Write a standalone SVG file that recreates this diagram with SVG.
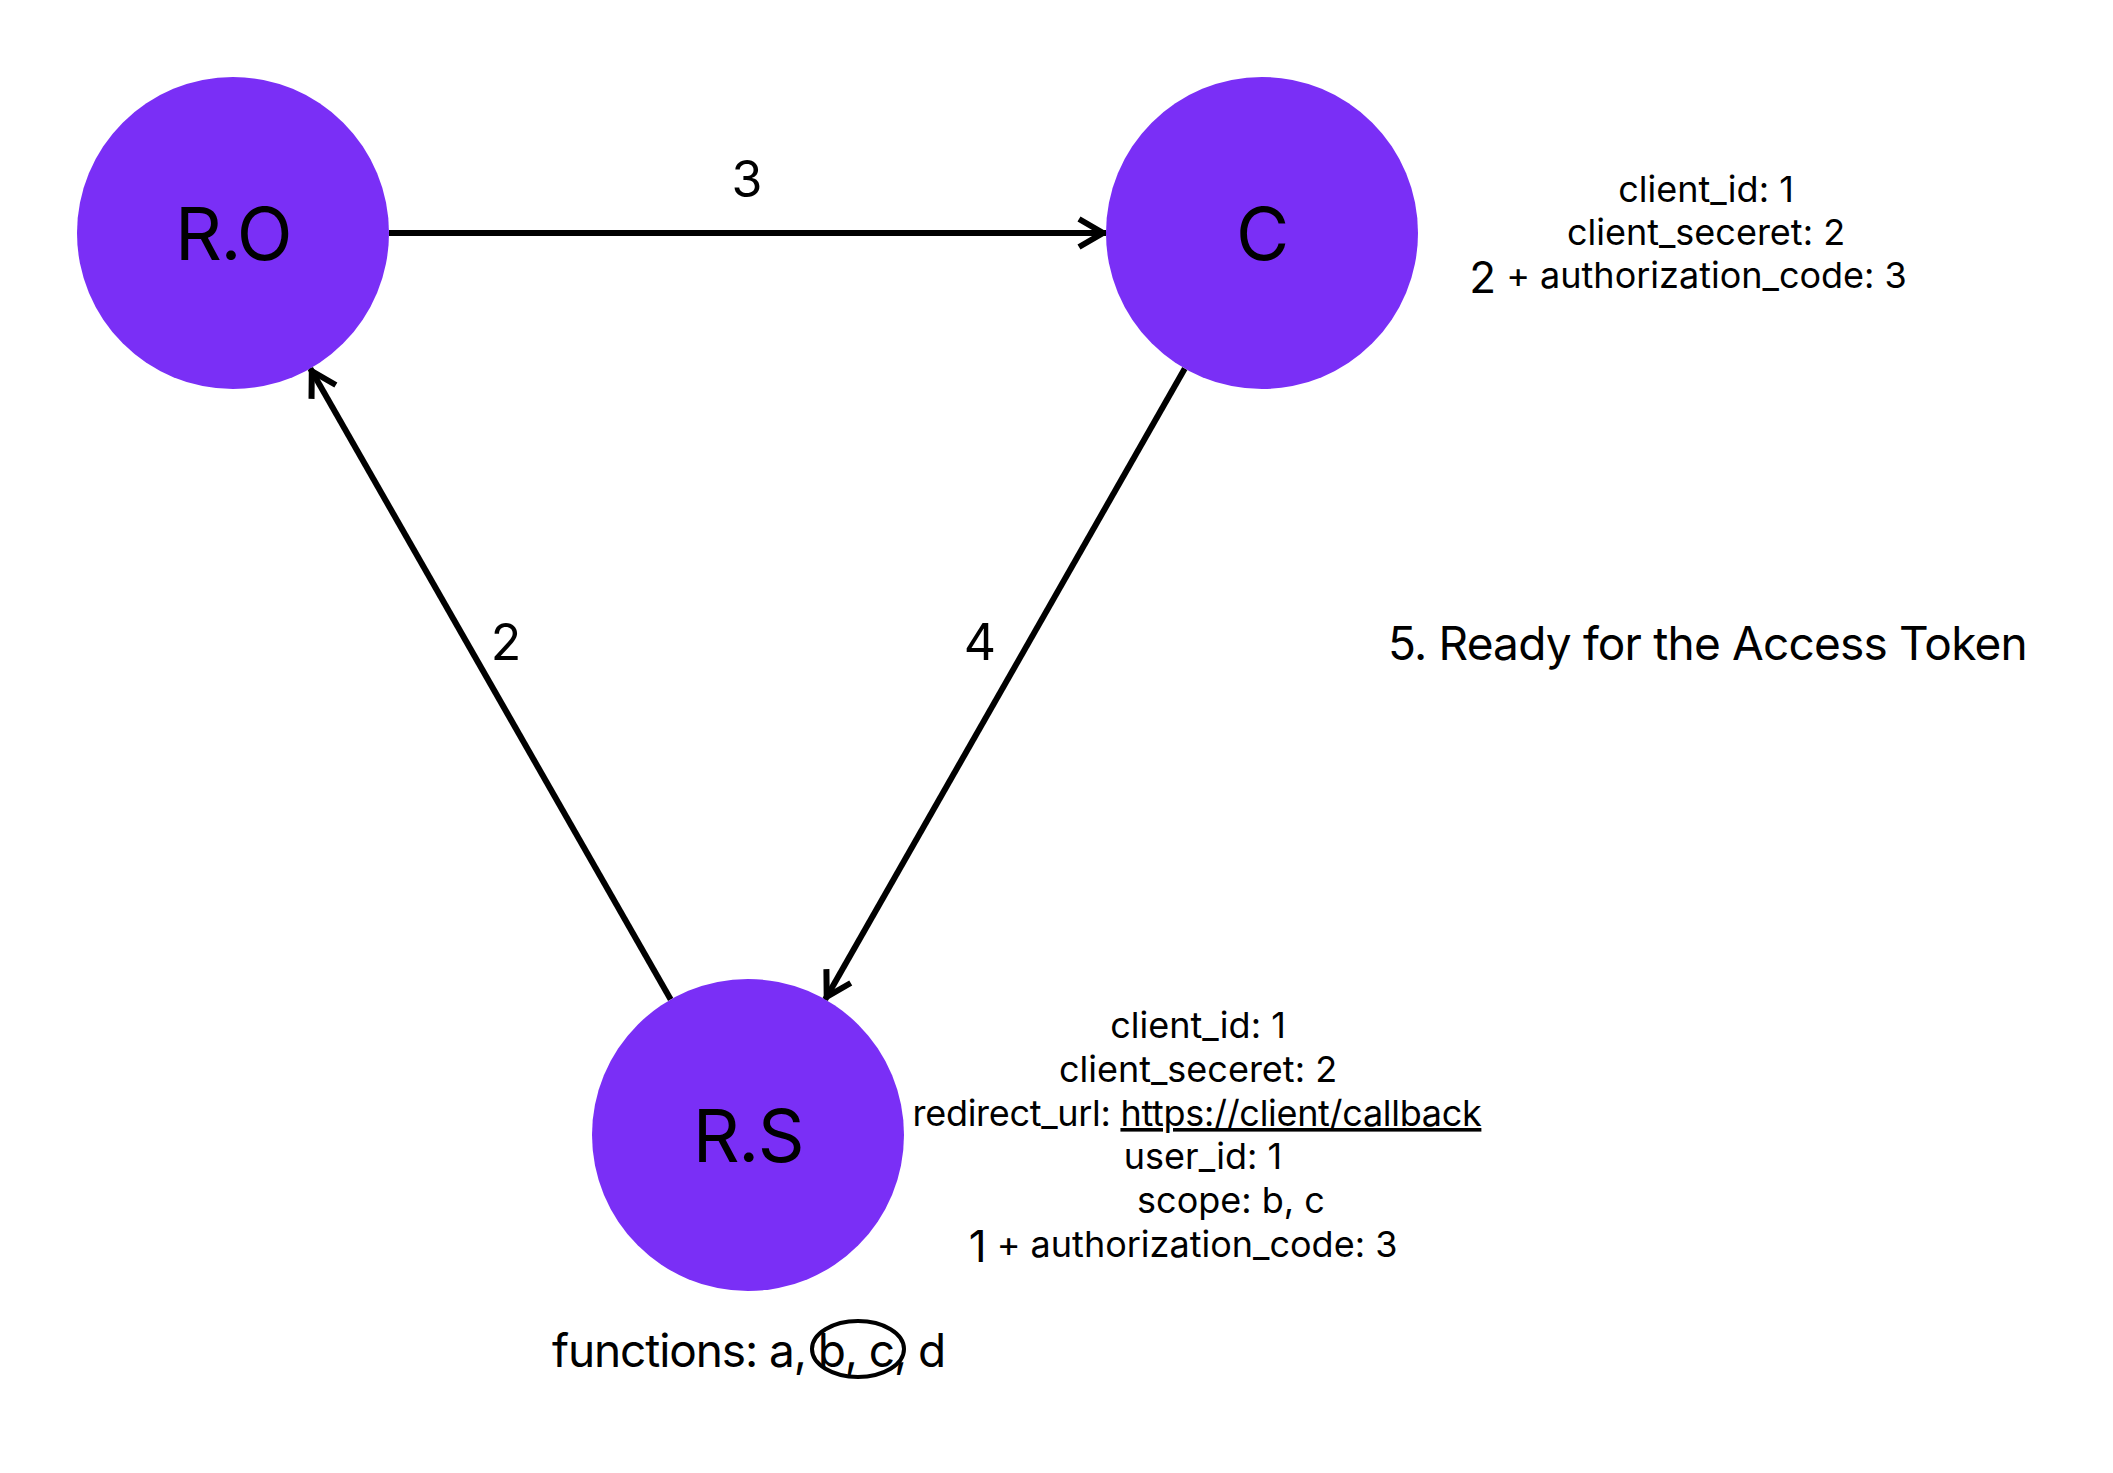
<svg xmlns="http://www.w3.org/2000/svg" width="2113" height="1473" viewBox="0 0 2113 1473">
<style>
.node{fill:#7a2ff6}
.nlabel{font-family:Inter,"Liberation Sans",sans-serif;font-size:73px;fill:#000;text-anchor:middle;letter-spacing:-1.5px}
.edge{stroke:#000;stroke-width:6;fill:none}
.elabel{font-family:Inter,"Liberation Sans",sans-serif;font-size:50px;fill:#000;text-anchor:middle}
.info{font-family:Inter,"Liberation Sans",sans-serif;font-size:36px;fill:#000;text-anchor:middle}
.big{font-size:44px}
.note{font-family:Inter,"Liberation Sans",sans-serif;font-size:46px;fill:#000}
</style>
<defs>
<marker id="arrow" markerUnits="userSpaceOnUse" markerWidth="50" markerHeight="50" viewBox="-40 -25 50 50" refX="0" refY="0" orient="auto">
<path d="M-27,-14 L-3,0 L-27,14" fill="none" stroke="#000" stroke-width="6" stroke-linejoin="miter"/>
</marker>
</defs>
<rect width="2113" height="1473" fill="#fff"/>
<g id="connectors">
<path class="edge" d="M389,233 L1106,233" marker-end="url(#arrow)"/>
<path class="edge" d="M670.7,999.5 L310.3,368.5" marker-end="url(#arrow)"/>
<path class="edge" d="M1184.8,368.5 L825.2,999.5" marker-end="url(#arrow)"/>
<text class="elabel" x="747" y="197">3</text>
<text class="elabel" x="506" y="660">2</text>
<text class="elabel" x="980" y="660">4</text>
</g>
<g id="node-ro">
<circle class="node" cx="233" cy="233" r="156"/>
<text class="nlabel" x="233" y="260">R.O</text>
</g>
<g id="node-c">
<circle class="node" cx="1262" cy="233" r="156"/>
<text class="nlabel" x="1262" y="260">C</text>
</g>
<g id="node-rs">
<circle class="node" cx="748" cy="1135" r="156"/>
<text class="nlabel" x="748" y="1162">R.S</text>
</g>
<g id="c-info">
<text class="info" x="1706" y="202">client_id: 1</text>
<text class="info" x="1706" y="245">client_seceret: 2</text>
<text class="info" x="1688" y="288"><tspan class="big" dy="5">2</tspan><tspan dy="-5"> + authorization_code: 3</tspan></text>
</g>
<g id="rs-info">
<text class="info" x="1198" y="1038">client_id: 1</text>
<text class="info" x="1198" y="1082">client_seceret: 2</text>
<text class="info" x="1197" y="1126" letter-spacing="-0.3">redirect_url: <tspan text-decoration="underline">https://client/callback</tspan></text>
<text class="info" x="1203" y="1169">user_id: 1</text>
<text class="info" x="1231" y="1213">scope: b, c</text>
<text class="info" x="1183" y="1257"><tspan class="big" dy="5">1</tspan><tspan dy="-5"> + authorization_code: 3</tspan></text>
</g>
<g id="functions">
<text class="note" x="552" y="1367" font-size="44" letter-spacing="-1.1">functions: a, b, c, d</text>
<ellipse cx="858" cy="1349" rx="46" ry="28" fill="none" stroke="#000" stroke-width="4"/>
</g>
<g id="note-5">
<text class="note" x="1388" y="660" letter-spacing="-0.8">5. Ready for the Access Token</text>
</g>
</svg>
